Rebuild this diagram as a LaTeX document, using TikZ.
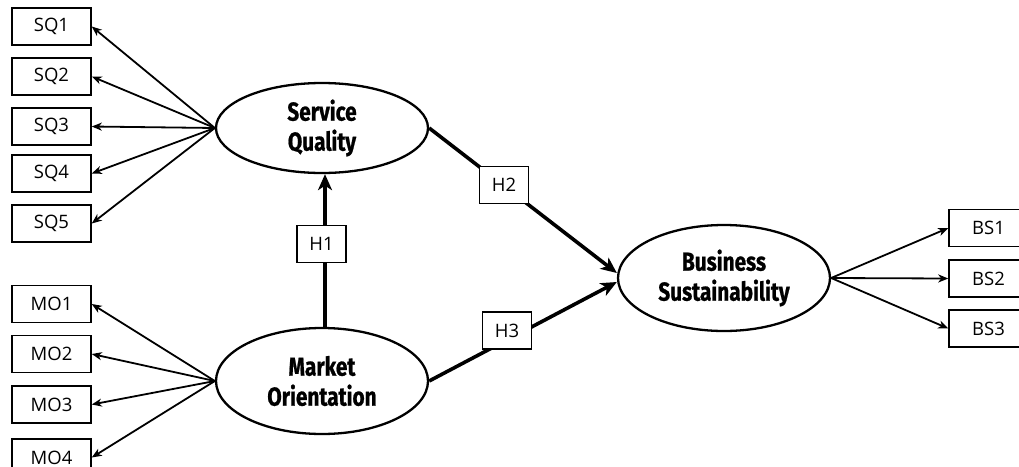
\documentclass[tikz,border=0pt]{standalone}
\usepackage{fontspec}
\usetikzlibrary{shapes.geometric,arrows.meta}
\newfontfamily\boxfont{Open Sans}
\newfontfamily\ellfont[FakeStretch=0.8,BoldFeatures={FakeBold=0.8}]{Fira Sans}
\begin{document}
\begin{tikzpicture}[x=1pt,y=-1pt,
  itembox/.style={draw,line width=1.5pt,minimum width=79pt,minimum height=37pt,inner sep=0pt,font=\boxfont\fontsize{18.5}{22}\selectfont},
  hbox/.style={draw,fill=white,line width=1.2pt,minimum width=49pt,minimum height=37pt,inner sep=0pt,font=\boxfont\fontsize{18.5}{22}\selectfont},
  latent/.style={draw,ellipse,line width=2.3pt,inner sep=0pt,align=center,minimum width=212pt,font=\ellfont\bfseries\fontsize{26}{30}\selectfont},
  thin/.style={line width=1.8pt,-{Stealth[length=10pt,width=8pt,inset=3pt]}},
  thick/.style={line width=3.6pt,-{Stealth[length=16pt,width=14pt,inset=4.5pt]}}
]
\useasboundingbox (0,0) rectangle (1019,466);
% latent variables
\node[latent,minimum height=90pt] (sq) at (322,128) {Service\\Quality};
\node[latent,minimum height=106pt] (mo) at (322,381) {Market\\Orientation};
\node[latent,minimum height=106pt] (bs) at (724,278) {Business\\Sustainability};
% indicators
\node[itembox] (sq1) at (51.5,26.5) {SQ1};
\node[itembox] (sq2) at (51.5,76.5) {SQ2};
\node[itembox] (sq3) at (51.5,126.5) {SQ3};
\node[itembox] (sq4) at (51.5,173.5) {SQ4};
\node[itembox] (sq5) at (51.5,223.5) {SQ5};
\node[itembox] (mo1) at (51.5,304) {MO1};
\node[itembox] (mo2) at (51.5,354) {MO2};
\node[itembox] (mo3) at (51.5,404.5) {MO3};
\node[itembox] (mo4) at (51.5,457.5) {MO4};
\node[itembox] (bs1) at (988.5,228) {BS1};
\node[itembox] (bs2) at (988.5,278.5) {BS2};
\node[itembox] (bs3) at (988.5,328.5) {BS3};
% loadings
\foreach \i in {1,...,5} \draw[thin] (sq.west) -- (sq\i.east);
\foreach \i in {1,...,4} \draw[thin] (mo.west) -- (mo\i.east);
\foreach \i in {1,...,3} \draw[thin] (bs.east) -- (bs\i.west);
% structural paths
\coordinate (bsin2) at ([yshift=5pt]bs.west);
\coordinate (bsin3) at ([yshift=-4pt]bs.west);
\coordinate (moout) at ([xshift=3pt]mo.north);
\coordinate (sqin) at ([xshift=3pt]sq.south);
\draw[thick] (moout) -- (sqin);
\draw[thick] (sq.east) -- (bsin2);
\draw[thick] (mo.east) -- (bsin3);
\node[hbox] (h1) at (321.5,244) {H1};
\node[hbox] (h2) at (504,185) {H2};
\node[hbox] (h3) at (507,330.5) {H3};
\end{tikzpicture}
\end{document}
